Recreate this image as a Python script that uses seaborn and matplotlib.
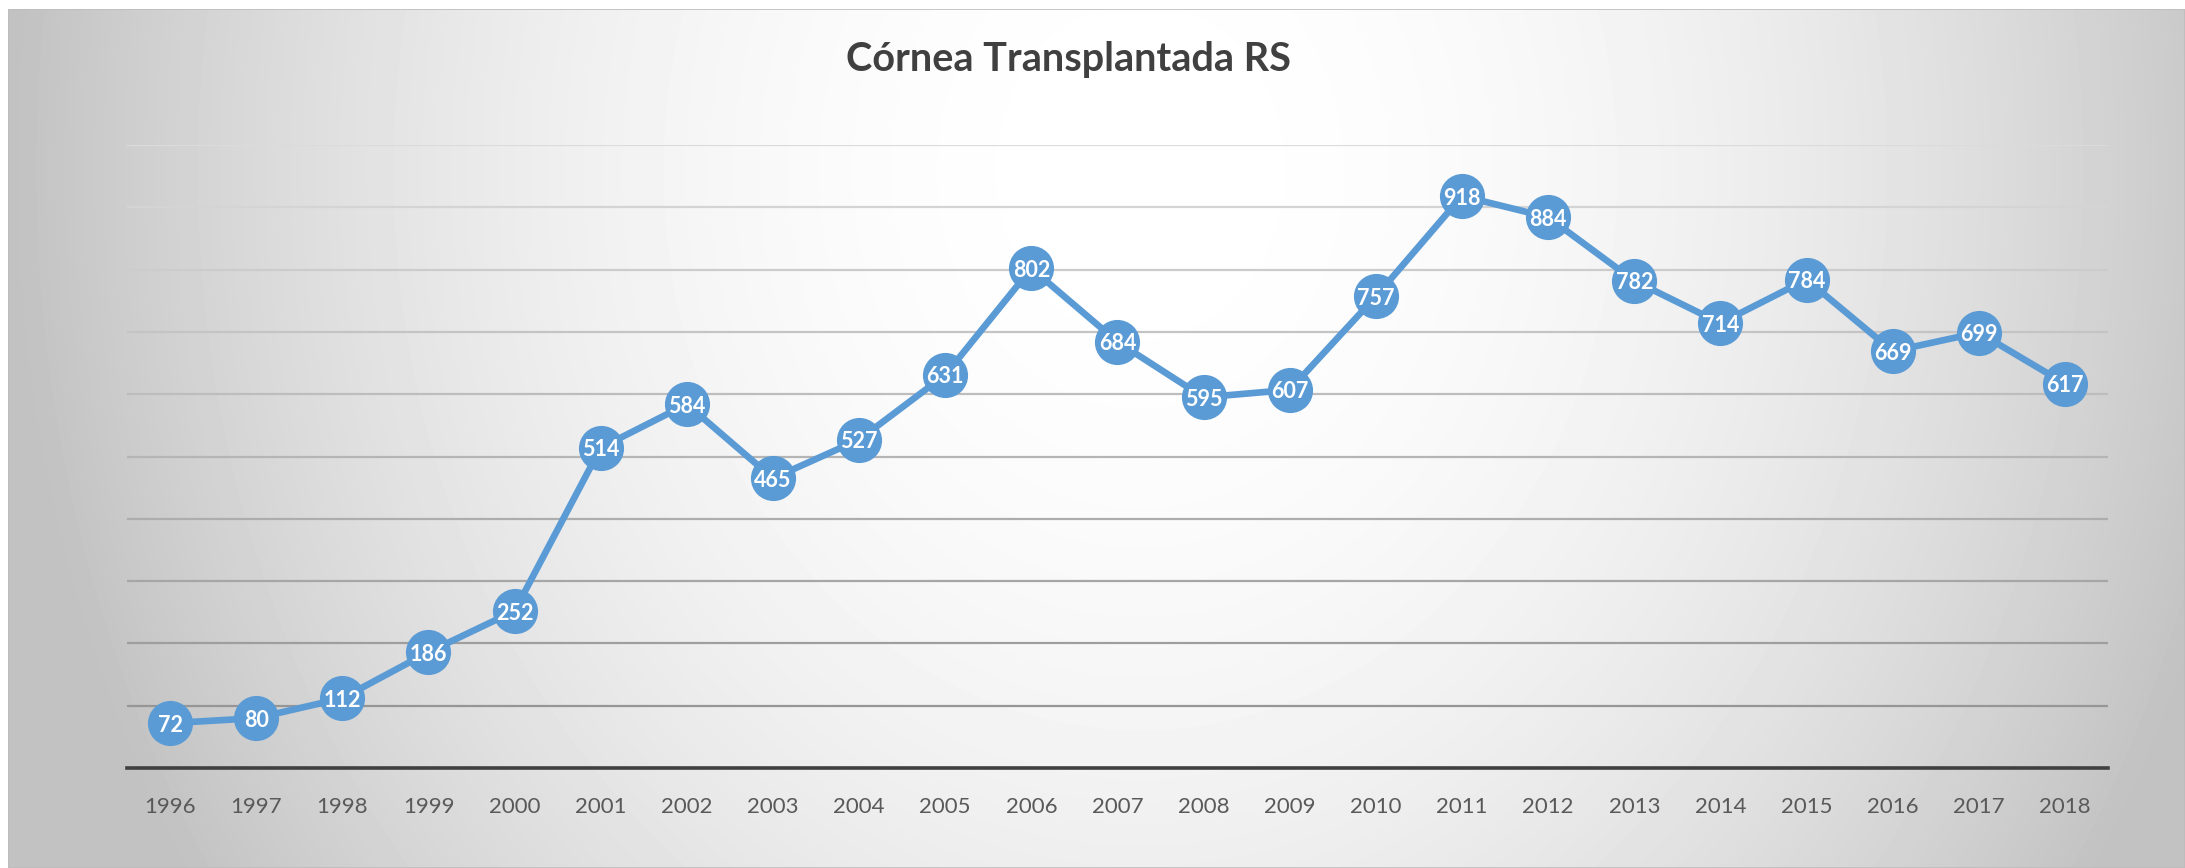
import numpy as np
import pandas as pd
import matplotlib
matplotlib.use("Agg")
import matplotlib.pyplot as plt
import seaborn as sns

# dados: córneas transplantadas no RS por ano
years = ['1996', '1997', '1998', '1999', '2000', '2001', '2002', '2003', '2004', '2005', '2006', '2007',
         '2008', '2009', '2010', '2011', '2012', '2013', '2014', '2015', '2016', '2017', '2018']
transplants = [72, 80, 112, 186, 252, 514, 584, 465, 527, 631, 802, 684,
               595, 607, 757, 918, 884, 782, 714, 784, 669, 699, 617]
grid_values = [0, 100, 200, 300, 400, 500, 600, 700, 800, 900, 1000]
title = 'Córnea Transplantada RS'

sns.set_style("white")
plt.rcParams['font.family'] = ['Lato', 'DejaVu Sans']

W, H = 2185, 868
fig = plt.figure(figsize=(W / 100, H / 100), dpi=100)
fig.patch.set_facecolor('white')

# radial gray background (Excel style)
bg = fig.add_axes([8 / W, 0, 1 - 8 / W, 1 - 9 / H])
xx, yy = np.meshgrid(np.arange(8, W), np.arange(9, H))
d2 = ((xx - 1140) / 1150.0) ** 2 + ((yy - 170) / 1350.0) ** 2
shade = np.clip(1 - 0.25 * d2, 0.76, 1.0)
bg.imshow(shade, cmap='gray', vmin=0, vmax=1, aspect='auto', interpolation='bilinear')
bg.set_axis_off()
bg.add_patch(plt.Rectangle((0, 0), 1, 1, transform=bg.transAxes, fill=False,
                           edgecolor='#bdbdbd', linewidth=1.2))

ax = fig.add_axes([127 / W, 1 - 768 / H, (2108 - 127) / W, (768 - 145) / H])
ax.set_facecolor('none')

df = pd.DataFrame({'pos': np.arange(len(years)), 'value': transplants})
sns.lineplot(data=df, x='pos', y='value', ax=ax, color='#5B9BD5', linewidth=4.8,
             marker='o', markersize=32.5, markeredgewidth=0, zorder=5)

for i, v in enumerate(transplants):
    ax.text(i, v, str(v), ha='center', va='center_baseline', color='white',
            fontsize=15.5, fontweight='bold', zorder=6)

ax.set_xlim(-0.5, len(years) - 0.5)
ax.set_ylim(0, 1000)
ax.set_xticks(np.arange(len(years)))
ax.set_xticklabels(years, fontsize=16, color='#595959')
ax.set_yticks(grid_values)
ax.set_yticklabels([])
ax.tick_params(axis='both', length=0)
ax.tick_params(axis='x', pad=21)
ax.set_xlabel('')
ax.set_ylabel('')

# gridlines go from dark at the bottom to light at the top
ax.grid(axis='y', linewidth=1.6, zorder=1)
shades = np.linspace(0.56, 0.86, len(grid_values))
for gl, s in zip(ax.get_ygridlines(), shades):
    gl.set_color((s, s, s))
ax.set_axisbelow(True)

for side in ['top', 'left', 'right']:
    ax.spines[side].set_visible(False)
ax.spines['bottom'].set_color('#404040')
ax.spines['bottom'].set_linewidth(2.6)
ax.spines['bottom'].set_zorder(3)

fig.text(1068 / W, 1 - 60 / H, title, ha='center', va='center', fontsize=28.5,
         fontweight='bold', color='#404040')

fig.savefig('out.png', dpi=100)
